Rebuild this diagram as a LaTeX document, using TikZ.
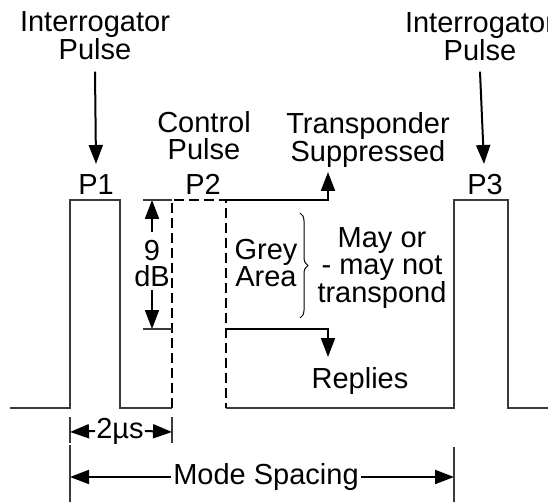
\documentclass[tikz,border=0pt]{standalone}
\usepackage{fontspec}
\setmainfont{Liberation Sans}
\usetikzlibrary{arrows.meta,positioning,decorations.pathreplacing}
\definecolor{wavegrey}{HTML}{3A3A3A}

\begin{document}
\begin{tikzpicture}[
  x=1pt, y=-1pt,
  font=\fontsize{29}{25}\selectfont,
  label/.style={inner sep=0pt, anchor=north, align=center},
  wave/.style={draw=wavegrey, line width=1.2pt},
  ctrlpulse/.style={line width=2.8pt, dash pattern=on 10pt off 5pt},
  arr/.style={-{Triangle[length=19pt,width=14pt]}, line width=2pt},
  tick/.style={draw=wavegrey, line width=1.1pt},
  brc/.style={decorate, decoration={brace, amplitude=8pt}, line width=1pt}
]
\clip (0,0) rectangle (548,502);

% pulse train
\draw[wave] (10,408) -- (70,408) -- (70,200) -- (120,200) -- (120,408) -- (172,408);
\draw[wave] (226,408) -- (454,408) -- (454,200) -- (508,200) -- (508,408) -- (548,408);
\draw[ctrlpulse] (172,408) -- (172,200) -- (226,200) -- (226,408);

\coordinate (p2top) at (226,200);
\coordinate (p2low) at (226,329);
\coordinate (suptip) at (328,172);
\coordinate (reptip) at (328,357);
\coordinate (dbtop) at (152,200);
\coordinate (dbbot) at (152,329);

% labels
\node[label] (interL) at (95,11) {Interrogator\\Pulse};
\node[label] (interR) at (480,12) {Interrogator\\Pulse};
\node[label, font=\fontsize{29}{27}\selectfont] (ctrl) at (204,111) {Control\\Pulse};
\node[label, font=\fontsize{29}{26}\selectfont] (supp) at (368,112) {Transponder\\Suppressed};
\node[label] (pone) at (96,174) {P1};
\node[label] (ptwo) at (203,174) {P2};
\node[label] (pthree) at (485,174) {P3};
\node[label, font=\fontsize{29}{26}\selectfont] (nine) at (152,240) {9\\dB};
\node[label, font=\fontsize{29}{24}\selectfont] (grey) at (266,239) {Grey\\Area};
\node[label, font=\fontsize{29}{27}\selectfont] (maybe) at (382,227) {May or\\- may not\\transpond};
\node[label] (replies) at (360,367) {Replies};
\node[inner sep=1pt] (twous) at (120,431) {2µs};
\node[inner sep=2pt] (modesp) at (266,477) {Mode Spacing};

% arrows
\draw[arr] ([yshift=-12pt]interL.south) -- ([yshift=10pt]pone.north);
\draw[arr] ([yshift=-11pt]interR.south) -- ([yshift=10pt,xshift=-1pt]pthree.north);
\draw[arr] (p2top) -| (suptip);
\draw[arr] (p2low) -| (reptip);
\draw[arr] ([yshift=8pt]nine.north) -- (dbtop);
\draw[arr] ([yshift=-3pt]nine.south) -- (dbbot);
\draw[tick] (143,200) -- (172,200);
\draw[tick] (143,329) -- (172,329);
\draw[brc] (300,213) -- (300,318);

% dimensions
\draw[tick] (70,417) -- (70,443);
\draw[tick] (172,417) -- (172,443);
\draw[tick] (70,445) -- (70,502);
\draw[tick] (454,447) -- (454,502);
\coordinate (usL) at (70,432);
\coordinate (usR) at (172,432);
\coordinate (msL) at (70,477);
\coordinate (msR) at (454,477);
\draw[arr] (twous.west) -- (usL);
\draw[arr] (twous.east) -- (usR);
\draw[arr] (modesp.west) -- (msL);
\draw[arr] (modesp.east) -- (msR);
\end{tikzpicture}
\end{document}
